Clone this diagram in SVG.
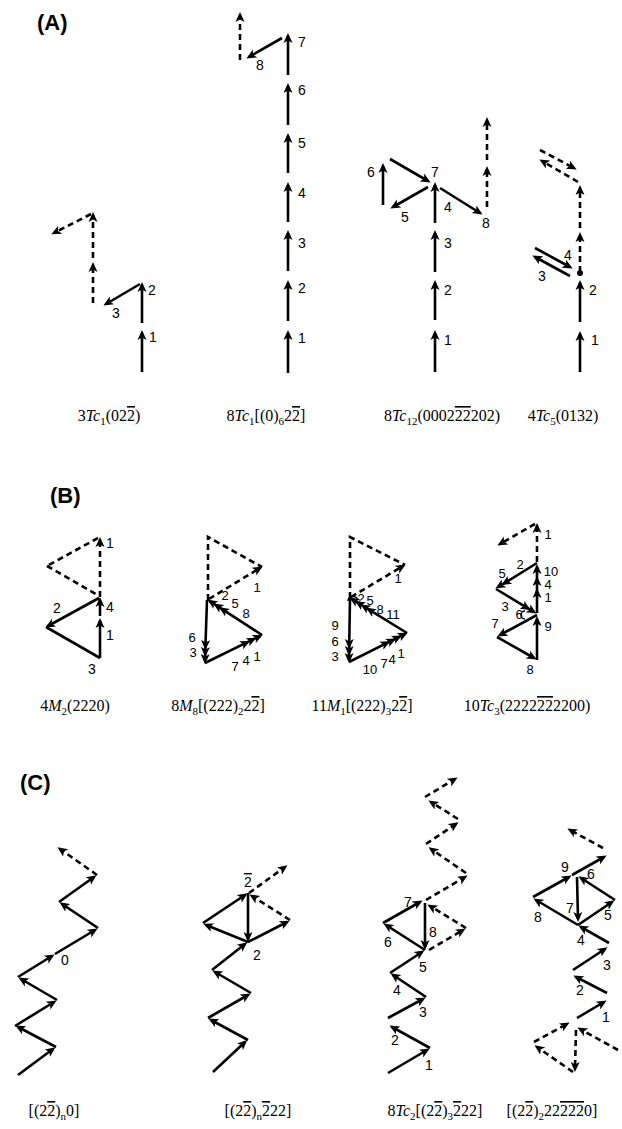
<svg xmlns="http://www.w3.org/2000/svg" width="622" height="1129" viewBox="0 0 622 1129">
<style>
.s{stroke:#000;stroke-width:2.6;fill:none;marker-end:url(#h)}
.sn{stroke:#000;stroke-width:2.6;fill:none}
.d{stroke:#000;stroke-width:2.6;fill:none;stroke-dasharray:6 4;marker-end:url(#h)}
.dn{stroke:#000;stroke-width:2.6;fill:none;stroke-dasharray:6 4}
.m{stroke:#000;stroke-width:2.6;fill:none;marker-mid:url(#h);marker-end:url(#h)}
.n{font-family:"Liberation Sans",Arial,sans-serif;font-size:14px;text-anchor:middle}
.nb{font-family:"Liberation Sans",Arial,sans-serif;font-size:13px;text-anchor:middle}
.cap{font-family:"Liberation Serif","Times New Roman",serif;font-size:16px;text-anchor:middle}
.sb{font-size:11px}
.it{font-style:italic}
.ov{text-decoration:overline}
.pl{font-family:"Liberation Sans",Arial,sans-serif;font-size:22px;font-weight:bold}
</style>
<defs>
<marker id="h" viewBox="0 0 10 10" refX="7" refY="5" markerWidth="10" markerHeight="10" markerUnits="userSpaceOnUse" orient="auto"><path d="M0,0.5 L10,5 L0,9.5 L2.5,5 Z" fill="#000"/></marker>
</defs>
<rect width="622" height="1129" fill="#fff"/>

<text class="pl" x="37" y="30">(A)</text>
<text class="pl" x="50" y="503">(B)</text>
<text class="pl" x="20" y="790">(C)</text>

<!-- Panel A -->
<g id="A1">
<g class="conn">
<path class="s" d="M142,372 L142,333"/>
<path class="s" d="M142,323 L142,285"/>
<path class="s" d="M140,284 L106,304"/>
<path class="d" d="M93,303 L93,265"/>
<path class="d" d="M93,258 L93,215"/>
<path class="d" d="M91,214 L54,233"/>
</g>
<text class="n" x="153" y="342">1</text>
<text class="n" x="152" y="295">2</text>
<text class="n" x="116" y="318">3</text>
<text class="cap" x="109" y="421">3<tspan class="it">Tc</tspan><tspan class="sb" dy="4">1</tspan><tspan dy="-4">(02</tspan><tspan class="ov">2</tspan>)</text>
</g>

<g id="A2">
<g class="conn">
<path class="s" d="M288,373 L288,333"/>
<path class="s" d="M288,321 L288,283"/>
<path class="s" d="M288,271 L288,233"/>
<path class="s" d="M288,222 L288,185"/>
<path class="s" d="M288,173 L288,136"/>
<path class="s" d="M288,125 L288,86"/>
<path class="s" d="M288,75 L288,36"/>
<path class="s" d="M282,38 L249,57"/>
<path class="d" d="M240,60 L240,15"/>
</g>
<text class="n" x="302" y="343">1</text>
<text class="n" x="302" y="293">2</text>
<text class="n" x="302" y="248">3</text>
<text class="n" x="302" y="198">4</text>
<text class="n" x="302" y="148">5</text>
<text class="n" x="302" y="95">6</text>
<text class="n" x="302" y="47">7</text>
<text class="n" x="260" y="70">8</text>
<text class="cap" x="266" y="421">8<tspan class="it">Tc</tspan><tspan class="sb" dy="4">1</tspan><tspan dy="-4">[(0)</tspan><tspan class="sb" dy="4">6</tspan><tspan dy="-4">2</tspan><tspan class="ov">2</tspan>]</text>
</g>

<g id="A3">
<g class="conn">
<path class="s" d="M435,372 L435,333"/>
<path class="s" d="M435,320 L435,283"/>
<path class="s" d="M435,272 L435,233"/>
<path class="s" d="M435,223 L435,185"/>
<path class="s" d="M428,187 L393,207"/>
<path class="s" d="M383,205 L383,166"/>
<path class="s" d="M390,159 L428,181"/>
<path class="s" d="M440,188 L480,213"/>
<path class="d" d="M487,207 L487,169"/>
<path class="d" d="M487,160 L487,120"/>
</g>
<text class="n" x="448" y="345">1</text>
<text class="n" x="448" y="295">2</text>
<text class="n" x="448" y="248">3</text>
<text class="n" x="448" y="212">4</text>
<text class="n" x="405" y="222">5</text>
<text class="n" x="371" y="177">6</text>
<text class="n" x="435" y="177">7</text>
<text class="n" x="486" y="228">8</text>
<text class="cap" x="442" y="421">8<tspan class="it">Tc</tspan><tspan class="sb" dy="4">12</tspan><tspan dy="-4">(0002</tspan><tspan class="ov">22</tspan>202)</text>
</g>

<g id="A4">
<g class="conn">
<path class="s" d="M580,372 L580,334"/>
<path class="s" d="M580,322 L580,283"/>
<circle cx="580" cy="273" r="3"/>
<path class="d" d="M580,272 L580,235"/>
<path class="d" d="M580,228 L580,188"/>
<path class="s" d="M535,248 L570,267"/>
<path class="s" d="M570,276 L535,257"/>
<path class="d" d="M578,182 L542,161"/>
<path class="d" d="M540,150 L574,168"/>
</g>
<text class="n" x="595" y="345">1</text>
<text class="n" x="593" y="295">2</text>
<text class="n" x="542" y="281">3</text>
<text class="n" x="568" y="260">4</text>
<text class="cap" x="563" y="421">4<tspan class="it">Tc</tspan><tspan class="sb" dy="4">5</tspan><tspan dy="-4">(0132)</tspan></text>
</g>

<!-- Panel B -->
<g id="B1">
<g class="conn">
<path class="s" d="M100,658 L100,621"/>
<path class="s" d="M100,616 L100,600"/>
<path class="s" d="M99,598 L48,626"/>
<path class="sn" d="M46,627 L100,658"/>
<path class="d" d="M100,597 L100,540"/>
<path class="dn" d="M98,538 L47,566"/>
<path class="dn" d="M47,566 L99,596"/>
</g>
<text class="n" x="110" y="640">1</text>
<text class="n" x="57" y="613">2</text>
<text class="n" x="92" y="674">3</text>
<text class="n" x="110" y="612">4</text>
<text class="n" x="110" y="548">1</text>
<text class="cap" x="75" y="711">4<tspan class="it">M</tspan><tspan class="sb" dy="4">2</tspan><tspan dy="-4">(2220)</tspan></text>
</g>

<g id="B2">
<g class="conn">
<path class="dn" d="M208,600 L208,537 L262,567"/>
<path class="d" d="M209,599 L260,568"/>
<path class="m" d="M207,600 L205.4,647 L205.2,654 L205,661"/>
<path class="m" d="M205,663 L247.4,642.2 L253.7,639.1 L260,636"/>
<path class="m" d="M262,635 L221.7,608.9 L215.9,605.1 L210,601.3"/>
</g>
<text class="nb" x="257" y="592">1</text>
<text class="nb" x="225" y="600">2</text>
<text class="nb" x="193" y="657">3</text>
<text class="nb" x="246" y="665">4</text>
<text class="nb" x="235" y="608">5</text>
<text class="nb" x="192" y="642">6</text>
<text class="nb" x="235" y="671">7</text>
<text class="nb" x="246" y="618">8</text>
<text class="nb" x="257" y="661">1</text>
<text class="cap" x="218" y="711">8<tspan class="it">M</tspan><tspan class="sb" dy="4">8</tspan><tspan dy="-4">[(222)</tspan><tspan class="sb" dy="4">2</tspan><tspan dy="-4">2</tspan><tspan class="ov">2</tspan>]</text>
</g>

<g id="B3">
<g class="conn">
<path class="dn" d="M350,598 L350,537 L405,565"/>
<path class="d" d="M351,597 L403,566"/>
<path class="m" d="M350,598 L349.2,646 L349.1,653 L349,660"/>
<path class="m" d="M349,662 L387.6,642.7 L393.4,639.8 L399.2,636.9 L405,634"/>
<path class="m" d="M407,633 L368.6,609.4 L363.1,606 L357.5,602.6 L352,599.2"/>
<path d="M348,601 A5,4 0 0 1 358,600" stroke="#000" stroke-width="1.5" fill="none"/>
</g>
<text class="nb" x="398" y="583">1</text>
<text class="nb" x="361" y="603">2</text>
<text class="nb" x="370" y="605">5</text>
<text class="nb" x="380" y="614">8</text>
<text class="nb" x="393" y="619">11</text>
<text class="nb" x="335" y="630">9</text>
<text class="nb" x="335" y="646">6</text>
<text class="nb" x="335" y="661">3</text>
<text class="nb" x="370" y="674">10</text>
<text class="nb" x="384" y="668">7</text>
<text class="nb" x="392" y="664">4</text>
<text class="nb" x="401" y="658">1</text>
<text class="cap" x="362" y="711">11<tspan class="it">M</tspan><tspan class="sb" dy="4">1</tspan><tspan dy="-4">[(222)</tspan><tspan class="sb" dy="4">3</tspan><tspan dy="-4">2</tspan><tspan class="ov">2</tspan>]</text>
</g>

<g id="B4">
<g class="conn">
<path class="d" d="M537,562 L537,526"/>
<path class="d" d="M535,524 L500,544"/>
<path class="m" d="M537,563 L504,583.4 L498,587"/>
<path class="m" d="M496,589 L528,608.4 L534,612"/>
<path class="m" d="M537,613 L537,591 L537,579 L537,567"/>
<path class="s" d="M537,615 L500,635"/>
<path class="s" d="M497,637 L534,658"/>
<path class="s" d="M537,660 L537,619"/>
<path d="M525,611 A4,4 0 1 0 525,619" stroke="#000" stroke-width="1.5" fill="none"/>
</g>
<text class="nb" x="548" y="539">1</text>
<text class="nb" x="520" y="569">2</text>
<text class="nb" x="502" y="578">5</text>
<text class="nb" x="505" y="611">3</text>
<text class="nb" x="519" y="619">6</text>
<text class="nb" x="551" y="576">10</text>
<text class="nb" x="548" y="589">4</text>
<text class="nb" x="548" y="602">1</text>
<text class="nb" x="495" y="628">7</text>
<text class="nb" x="530" y="674">8</text>
<text class="nb" x="548" y="631">9</text>
<text class="cap" x="527" y="711">10<tspan class="it">Tc</tspan><tspan class="sb" dy="4">3</tspan><tspan dy="-4">(2222</tspan><tspan class="ov">22</tspan>2200)</text>
</g>

<!-- Panel C -->
<g id="C1">
<g class="conn">
<path class="s" d="M18,1075 L53,1049"/>
<path class="s" d="M56,1047 L18,1027"/>
<path class="s" d="M15,1026 L54,1002"/>
<path class="s" d="M57,1000 L21,979"/>
<path class="s" d="M18,977 L52,956"/>
<path class="s" d="M55,954 L95,930"/>
<path class="s" d="M98,928 L62,904"/>
<path class="s" d="M59,902 L94,877"/>
<path class="d" d="M97,875 L60,849"/>
</g>
<text class="n" x="65" y="965">0</text>
<text class="cap" x="54" y="1116">[(2<tspan class="ov">2</tspan>)<tspan class="sb" dy="4">n</tspan><tspan dy="-4">0]</tspan></text>
</g>

<g id="C2">
<g class="conn">
<path class="s" d="M213,1072 L245,1042"/>
<path class="s" d="M248,1040 L211,1020"/>
<path class="s" d="M208,1018 L248,995"/>
<path class="s" d="M251,993 L215,972"/>
<path class="s" d="M212,970 L245,944"/>
<path class="s" d="M248,942 L206,925"/>
<path class="s" d="M203,923 L245,895"/>
<path class="s" d="M248,893 L248,939"/>
<path class="s" d="M248,942 L287,922"/>
<path class="d" d="M290,920 L252,896"/>
<path class="d" d="M249,893 L285,867"/>
</g>
<text class="n" x="248" y="887"><tspan class="ov">2</tspan></text>
<text class="n" x="257" y="960">2</text>
<text class="cap" x="258" y="1116">[(2<tspan class="ov">2</tspan>)<tspan class="sb" dy="4">n</tspan><tspan dy="-4" class="ov">2</tspan>22]</text>
</g>

<g id="C3">
<g class="conn">
<path class="s" d="M388,1073 L427,1050"/>
<path class="s" d="M430,1048 L392,1027"/>
<path class="s" d="M388,1018 L423,999"/>
<path class="s" d="M426,997 L393,975"/>
<path class="s" d="M390,973 L422,952"/>
<path class="s" d="M425,950 L386,925"/>
<path class="s" d="M383,923 L420,902"/>
<path class="s" d="M425,903 L425,947"/>
<path class="d" d="M429,950 L463,930"/>
<path class="d" d="M466,928 L430,906"/>
<path class="d" d="M426,900 L465,877"/>
<path class="d" d="M466,873 L431,849"/>
<path class="d" d="M426,844 L456,824"/>
<path class="d" d="M458,819 L431,802"/>
<path class="d" d="M425,797 L455,779"/>
</g>
<text class="n" x="429" y="1070">1</text>
<text class="n" x="395" y="1045">2</text>
<text class="n" x="423" y="1017">3</text>
<text class="n" x="397" y="995">4</text>
<text class="n" x="423" y="972">5</text>
<text class="n" x="388" y="947">6</text>
<text class="n" x="408" y="907">7</text>
<text class="n" x="433" y="937">8</text>
<text class="cap" x="435" y="1116">8<tspan class="it">Tc</tspan><tspan class="sb" dy="4">2</tspan><tspan dy="-4">[(2</tspan><tspan class="ov">2</tspan>)<tspan class="sb" dy="4">3</tspan><tspan dy="-4" class="ov">2</tspan>22]</text>
</g>

<g id="C4">
<g class="conn">
<path class="d" d="M618,1050 L580,1029"/>
<path class="d" d="M576,1030 L575,1069"/>
<path class="d" d="M573,1072 L537,1047"/>
<path class="d" d="M534,1042 L567,1024"/>
<path class="s" d="M577,1018 L604,1002"/>
<path class="s" d="M607,993 L576,977"/>
<path class="s" d="M573,970 L605,949"/>
<path class="s" d="M609,943 L581,927"/>
<path class="s" d="M578,925 L612,902"/>
<path class="s" d="M615,900 L581,878"/>
<path class="s" d="M577,877 L578,919"/>
<path class="s" d="M578,925 L536,900"/>
<path class="s" d="M533,897 L569,877"/>
<path class="s" d="M572,875 L604,857"/>
<path class="d" d="M603,848 L570,830"/>
</g>
<text class="n" x="606" y="1022">1</text>
<text class="n" x="580" y="995">2</text>
<text class="n" x="607" y="970">3</text>
<text class="n" x="581" y="945">4</text>
<text class="n" x="608" y="920">5</text>
<text class="n" x="591" y="879">6</text>
<text class="n" x="570" y="913">7</text>
<text class="n" x="538" y="922">8</text>
<text class="n" x="565" y="872">9</text>
<text class="cap" x="552" y="1116">[(2<tspan class="ov">2</tspan>)<tspan class="sb" dy="4">2</tspan><tspan dy="-4">22</tspan><tspan class="ov">222</tspan>0]</text>
</g>
</svg>
